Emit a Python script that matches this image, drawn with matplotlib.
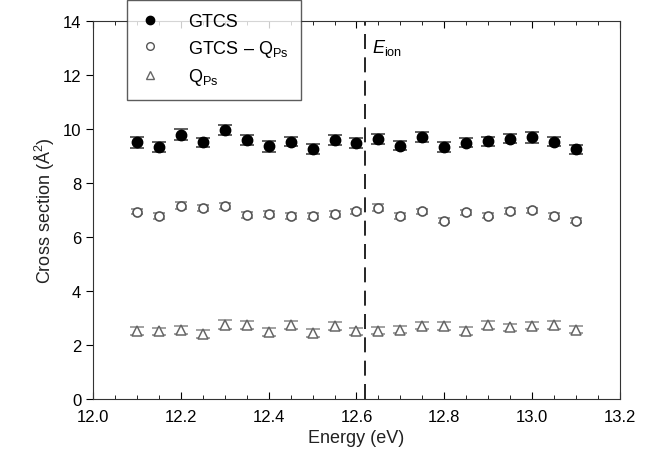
import numpy as np
import matplotlib
matplotlib.use("Agg")
import matplotlib.pyplot as plt
from matplotlib.ticker import MultipleLocator
from matplotlib.lines import Line2D

plt.rcParams['font.family'] = ['Liberation Sans', 'DejaVu Sans']
plt.rcParams['mathtext.fontset'] = 'custom'
plt.rcParams['mathtext.rm'] = 'Liberation Sans'
plt.rcParams['mathtext.it'] = 'Liberation Sans:italic'

# data
energy = [12.10, 12.15, 12.20, 12.25, 12.30, 12.35, 12.40, 12.45, 12.50, 12.55, 12.60,
          12.65, 12.70, 12.75, 12.80, 12.85, 12.90, 12.95, 13.00, 13.05, 13.10]
gtcs = [9.50, 9.33, 9.78, 9.50, 9.95, 9.58, 9.36, 9.53, 9.26, 9.60, 9.48,
        9.63, 9.38, 9.69, 9.33, 9.49, 9.54, 9.64, 9.69, 9.52, 9.24]
gtcs_err = [0.20, 0.18, 0.20, 0.18, 0.18, 0.18, 0.20, 0.18, 0.17, 0.18, 0.17,
            0.18, 0.17, 0.18, 0.18, 0.17, 0.17, 0.17, 0.20, 0.17, 0.16]
gtcs_minus_qps = [6.94, 6.77, 7.16, 7.07, 7.15, 6.81, 6.85, 6.77, 6.77, 6.85, 6.95,
                  7.09, 6.77, 6.95, 6.60, 6.91, 6.79, 6.96, 6.98, 6.77, 6.60]
gm_err = [0.10, 0.10, 0.12, 0.10, 0.12, 0.10, 0.10, 0.10, 0.10, 0.10, 0.10,
          0.12, 0.10, 0.10, 0.10, 0.10, 0.10, 0.10, 0.10, 0.10, 0.10]
qps = [2.51, 2.51, 2.57, 2.41, 2.75, 2.74, 2.47, 2.75, 2.44, 2.72, 2.51,
       2.53, 2.57, 2.72, 2.70, 2.51, 2.74, 2.65, 2.72, 2.74, 2.57]
qps_err = [0.15, 0.13, 0.15, 0.14, 0.16, 0.15, 0.15, 0.15, 0.14, 0.15, 0.13,
           0.14, 0.14, 0.14, 0.14, 0.15, 0.14, 0.13, 0.14, 0.14, 0.12]
e_ion = 12.62

fig = plt.figure(figsize=(6.48, 4.60), dpi=100)
ax = fig.add_axes([0.1435, 0.1304, 0.8133, 0.822])

ax.errorbar(energy, gtcs, yerr=gtcs_err, fmt='o', color='black', ms=7.5,
            ecolor='#444444', elinewidth=1, capsize=5, capthick=1.2, zorder=3)
ax.errorbar(energy, gtcs_minus_qps, yerr=gm_err, fmt='o', mfc='white', mec='#555555',
            mew=1.2, ms=6.5, ecolor='#888888', elinewidth=1, capsize=4, capthick=1.2,
            zorder=3)
ax.errorbar(energy, qps, yerr=qps_err, fmt='^', mfc='white', mec='#666666',
            mew=1.1, ms=7, ecolor='#888888', elinewidth=1, capsize=5, capthick=1.2,
            zorder=3)

ax.axvline(e_ion, color='black', lw=1.2, ls=(0, (9, 5)), zorder=2)
ax.text(e_ion + 0.015, 12.85, r'$E_\mathrm{ion}$', fontsize=13)

ax.set_xlim(12.0, 13.2)
ax.set_ylim(0, 14)
ax.xaxis.set_major_locator(MultipleLocator(0.2))
ax.xaxis.set_minor_locator(MultipleLocator(0.05))
ax.yaxis.set_major_locator(MultipleLocator(2))
ax.tick_params(axis='x', which='major', direction='in', length=5, top=True, labelsize=12, pad=7)
ax.tick_params(axis='x', which='minor', direction='in', length=3, top=True)
ax.tick_params(axis='y', which='major', direction='out', length=5, labelsize=12)
for s in ax.spines.values():
    s.set_color('#333333')

ax.set_xlabel('Energy (eV)', fontsize=13, color='#222222')
ax.set_ylabel('Cross section (Å$^2$)', fontsize=13, color='#222222')

handles = [
    Line2D([], [], ls='none', marker='o', color='black', ms=6),
    Line2D([], [], ls='none', marker='o', mfc='white', mec='#555555', mew=1.0, ms=5.5),
    Line2D([], [], ls='none', marker='^', mfc='white', mec='#666666', mew=1.0, ms=5.5),
]
labels = ['GTCS', r'GTCS – Q$_\mathrm{Ps}$', r'Q$_\mathrm{Ps}$']
leg = ax.legend(handles, labels, loc='upper left', bbox_to_anchor=(127 / 648, 0.997),
                bbox_transform=fig.transFigure, fontsize=13, frameon=True,
                fancybox=False, edgecolor='#333333', borderpad=0.7,
                handletextpad=1.5, labelspacing=0.42, handlelength=1.2,
                borderaxespad=0)
leg.get_frame().set_linewidth(1.0)
leg.set_zorder(5)

fig.savefig('out.png', dpi=100)
